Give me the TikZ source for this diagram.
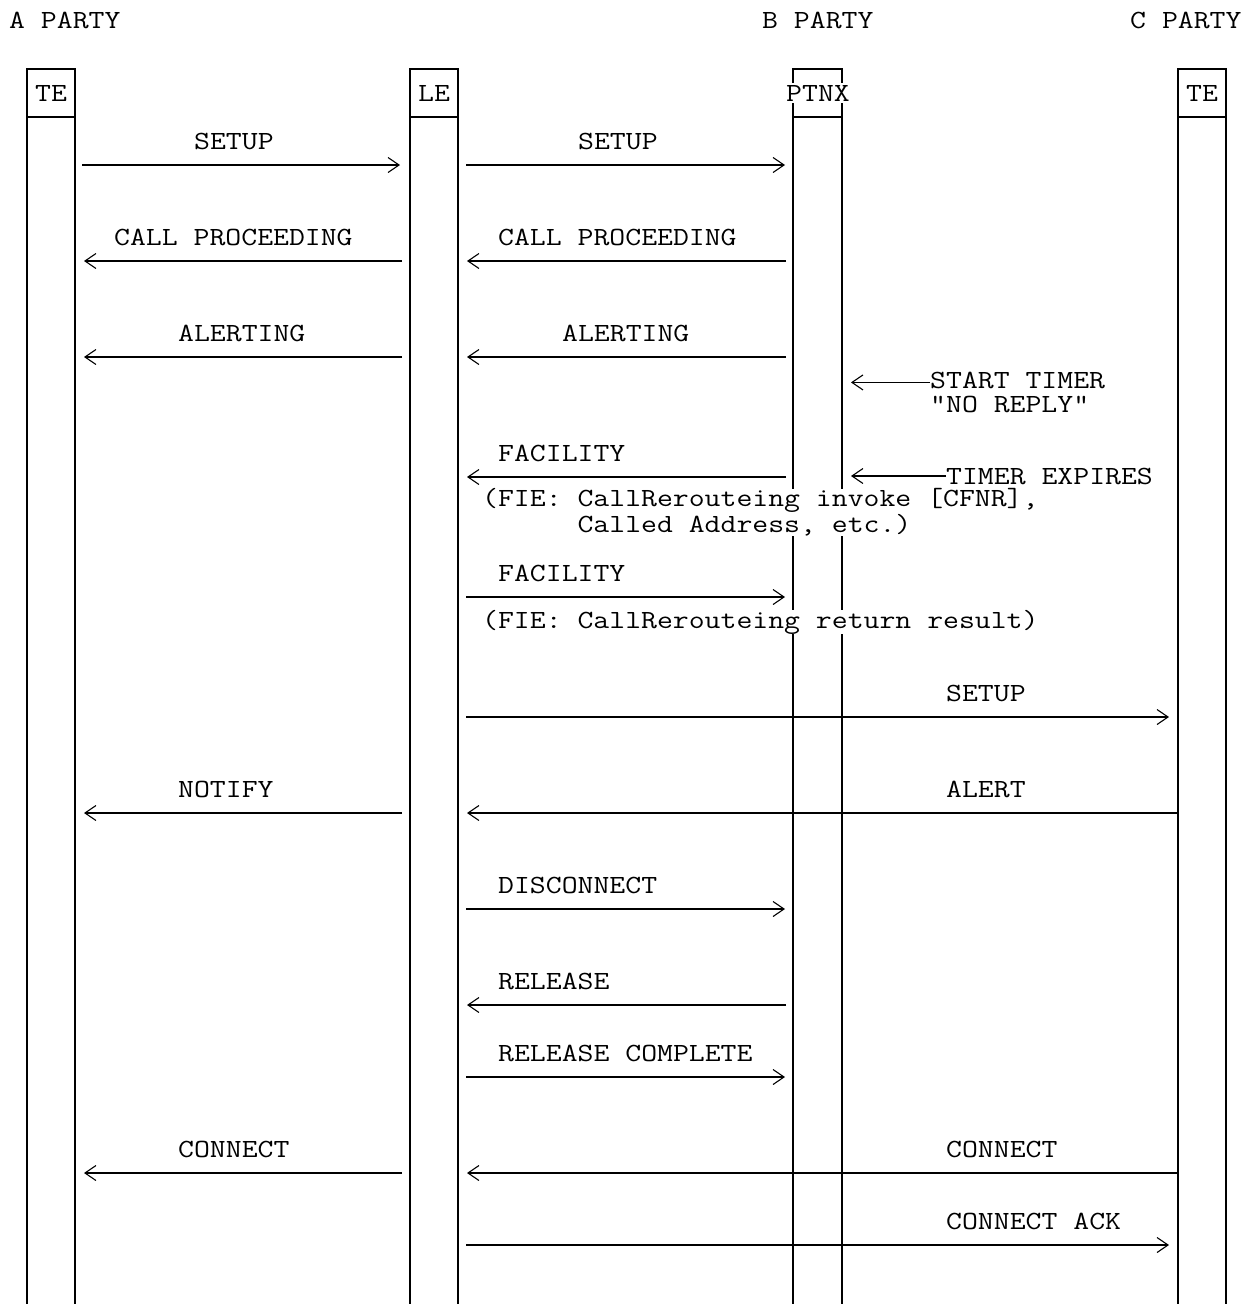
\documentclass[tikz,border=0pt]{standalone}
\usepackage{fontspec}
\setmainfont{Latin Modern Mono}[Ligatures=TeXOff, FakeStretch=1.178]
\usetikzlibrary{arrows.meta,calc}

\begin{document}
\begin{tikzpicture}[
  x=1pt, y=-1pt,
  every node/.style={inner sep=0pt, font=\fontsize{26.2}{24}\selectfont},
  lbl/.style={anchor=base west},
  hdr/.style={anchor=base},
  blank/.style={fill=white},
  life/.style={line width=1.5pt},
  msg/.style={line width=1.5pt, -{Straight Barb[length=11pt,width=15pt,line width=1.1pt]}}
]
  \useasboundingbox (0,0) rectangle (1245,1304);

  % Lifeline edges
  \coordinate (teAl) at (27,0);
  \coordinate (teAr) at (75,0);
  \coordinate (leL) at (410,0);
  \coordinate (leR) at (458,0);
  \coordinate (pxL) at (793,0);
  \coordinate (pxR) at (842,0);
  \coordinate (teCl) at (1178,0);
  \coordinate (teCr) at (1226,0);

  \foreach \l/\r in {teAl/teAr, leL/leR, pxL/pxR, teCl/teCr} {
    \draw[life] ($(\l)+(0,1304)$) |- ($(\r)+(0,69)$) -- ($(\r)+(0,1304)$);
    \draw[life] ($(\l)+(0,117)$) -- ($(\r)+(0,117)$);
  }

  % Parties and headers
  \node[lbl] (pA) at (9,28) {A PARTY};
  \node[lbl] (pB) at (762,28) {B PARTY};
  \node[lbl] (pC) at (1130,28) {C PARTY};
  \node[hdr] (hTEa) at (51,101) {TE};
  \node[hdr] (hLE) at (434,101) {LE};
  \node[hdr, blank, inner ysep=2pt] (hPTNX) at (818,101) {PTNX};
  \node[hdr] (hTEc) at (1202,101) {TE};

  % A party <-> LE
  \draw[msg] ($(teAr)+(7,165)$) -- ($(leL)+(-10,165)$);
  \node[lbl] (m1) at (194,149) {SETUP};
  \draw[msg] ($(leL)+(-8,261)$) -- ($(teAr)+(9,261)$);
  \node[lbl] (m2) at (114,245) {CALL PROCEEDING};
  \draw[msg] ($(leL)+(-8,357)$) -- ($(teAr)+(9,357)$);
  \node[lbl] (m3) at (178,341) {ALERTING};
  \draw[msg] ($(leL)+(-8,813)$) -- ($(teAr)+(9,813)$);
  \node[lbl] (m4) at (178,797) {NOTIFY};
  \draw[msg] ($(leL)+(-8,1173)$) -- ($(teAr)+(9,1173)$);
  \node[lbl] (m5) at (178,1157) {CONNECT};

  % LE <-> PTNX
  \draw[msg] ($(leR)+(8,165)$) -- ($(pxL)+(-8,165)$);
  \node[lbl] (n1) at (578,149) {SETUP};
  \draw[msg] ($(pxL)+(-7,261)$) -- ($(leR)+(9,261)$);
  \node[lbl] (n2) at (498,245) {CALL PROCEEDING};
  \draw[msg] ($(pxL)+(-7,357)$) -- ($(leR)+(9,357)$);
  \node[lbl] (n3) at (562,341) {ALERTING};
  \draw[msg] ($(pxL)+(-7,477)$) -- ($(leR)+(9,477)$);
  \node[lbl] (n4) at (498,461) {FACILITY};
  \node[lbl, blank, align=left] (n4a) at (482,532)
    {(FIE: CallRerouteing invoke [CFNR],\\\phantom{(FIE: }Called Address, etc.)};
  \draw[msg] ($(leR)+(8,597)$) -- ($(pxL)+(-8,597)$);
  \node[lbl] (n5) at (498,581) {FACILITY};
  \node[lbl, blank] (n5a) at (482,628) {(FIE: CallRerouteing return result)};
  \draw[msg] ($(leR)+(8,909)$) -- ($(pxL)+(-8,909)$);
  \node[lbl] (n6) at (498,893) {DISCONNECT};
  \draw[msg] ($(pxL)+(-7,1005)$) -- ($(leR)+(9,1005)$);
  \node[lbl] (n7) at (498,989) {RELEASE};
  \draw[msg] ($(leR)+(8,1077)$) -- ($(pxL)+(-8,1077)$);
  \node[lbl] (n8) at (498,1061) {RELEASE COMPLETE};

  % Timer
  \node[lbl, align=left] (tStart) at (930,412) {START TIMER\\"NO REPLY"};
  \draw[msg] ($(tStart.north west)+(0,11)$) -- ($(tStart.north west -| pxR)+(9,11)$);
  \node[lbl] (tExp) at (946,484) {TIMER EXPIRES};
  \draw[msg] (tExp.west) -- ($(tExp.west -| pxR)+(9,0)$);

  % LE <-> C party
  \draw[msg] ($(leR)+(8,717)$) -- ($(teCl)+(-9,717)$);
  \node[lbl] (c1) at (946,701) {SETUP};
  \draw[msg] ($(teCl)+(0,813)$) -- ($(leR)+(9,813)$);
  \node[lbl] (c2) at (946,797) {ALERT};
  \draw[msg] ($(teCl)+(0,1173)$) -- ($(leR)+(9,1173)$);
  \node[lbl] (c3) at (946,1157) {CONNECT};
  \draw[msg] ($(leR)+(8,1245)$) -- ($(teCl)+(-9,1245)$);
  \node[lbl] (c4) at (946,1229) {CONNECT ACK};

\end{tikzpicture}
\end{document}
